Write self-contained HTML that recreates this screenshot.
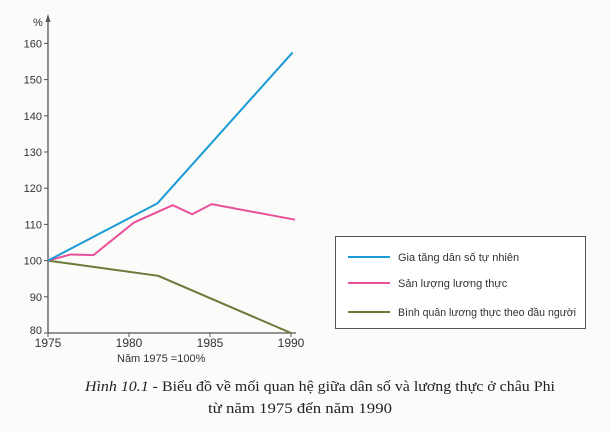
<!DOCTYPE html>
<html><head><meta charset="utf-8"><style>
html,body{margin:0;padding:0;background:#fbfbf9;}
svg{display:block;}
</style></head><body>
<svg width="610" height="431" viewBox="0 0 610 431" xmlns="http://www.w3.org/2000/svg" font-family="Liberation Sans, sans-serif">
<g id="axes"></g>
<g id="series"></g>
<g>
<rect x="335.5" y="236.5" width="250" height="92" fill="#fff" stroke="#555" stroke-width="1"/>
<line x1="348" y1="257" x2="390" y2="257" stroke="#1a9ad6" stroke-width="2"/>
<text x="398" y="261" font-size="11" fill="#333">Gia tăng dân số tự nhiên</text>
<line x1="348" y1="283" x2="390" y2="283" stroke="#e8519a" stroke-width="2"/>
<text x="398" y="287" font-size="11" fill="#333">Sản lượng lương thực</text>
<line x1="348" y1="312" x2="390" y2="312" stroke="#6b7a3a" stroke-width="2"/>
<text x="398" y="316" font-size="11" fill="#333" textLength="178" lengthAdjust="spacingAndGlyphs">Bình quân lương thực theo đầu người</text>
</g>
<text x="117" y="362" font-size="11" fill="#333">Năm 1975 =100%</text>
<text x="85" y="391" font-size="14.5" fill="#222" font-family="Liberation Serif, serif" textLength="470" lengthAdjust="spacingAndGlyphs"><tspan font-style="italic">Hình 10.1</tspan> - Biểu đồ về mối quan hệ giữa dân số và lương thực ở châu Phi</text>
<text x="208" y="413" font-size="14.5" fill="#222" font-family="Liberation Serif, serif" textLength="184" lengthAdjust="spacingAndGlyphs">từ năm 1975 đến năm 1990</text>
</svg>
<script>
const yTicks=[80,90,100,110,120,130,140,150,160];
const xTicks=[1975,1980,1985,1990];
const popYears=[1975,1981.75,1990.1];
const popVals=[100,115.8,157.5];
const foodYears=[1975,1976.4,1977.8,1980.3,1982.7,1983.9,1985.1,1990.25];
const foodVals=[100,101.7,101.5,110.5,115.3,112.8,115.6,111.3];
const capYears=[1975,1981.8,1990];
const capVals=[100,95.8,80];
const NS='http://www.w3.org/2000/svg';
const X=y=>48+(y-1975)*16.2;
const Y=v=>333-(v-80)*3.62;
function mk(tag,attrs,parent){const e=document.createElementNS(NS,tag);for(const k in attrs)e.setAttribute(k,attrs[k]);parent.appendChild(e);return e;}
const ax=document.getElementById('axes');
let e=mk('line',{x1:48,y1:18,x2:48,y2:333,stroke:'#555','stroke-width':1.3},ax);


e=mk('line',{x1:48,y1:333,x2:296,y2:333,stroke:'#555','stroke-width':1.3},ax);


e=mk('polygon',{points:'48,14 45.5,22 50.5,22',fill:'#555'},ax);


e=mk('text',{x:33,y:26,'font-size':11,fill:'#333'},ax);e.textContent='%';


yTicks.forEach(v=>{
 const t=mk('line',{x1:44,y1:Y(v),x2:48,y2:Y(v),stroke:'#555'},ax);
 
 
 const l=mk('text',{x:42,y:Y(v)+(v===80?1:4),'text-anchor':'end','font-size':11,fill:'#333'},ax);l.textContent=v;
 
 
});
xTicks.forEach(v=>{
 const t=mk('line',{x1:X(v),y1:333,x2:X(v),y2:337,stroke:'#555'},ax);
 
 
 const l=mk('text',{x:X(v),y:347,'text-anchor':'middle','font-size':12,fill:'#333'},ax);l.textContent=v;
 
 
});
const se=document.getElementById('series');
function line(xs,vs,color,name){
 const p=mk('polyline',{points:xs.map((x,i)=>X(x)+','+Y(vs[i])).join(' '),fill:'none',stroke:color,'stroke-width':2,'stroke-linejoin':'round'},se);
 
 
}
line(capYears,capVals,'#6b7a3a','line-per-capita-food');
line(foodYears,foodVals,'#e8519a','line-food-production');
line(popYears,popVals,'#1a9ad6','line-population-growth');
</script>
</body></html>
